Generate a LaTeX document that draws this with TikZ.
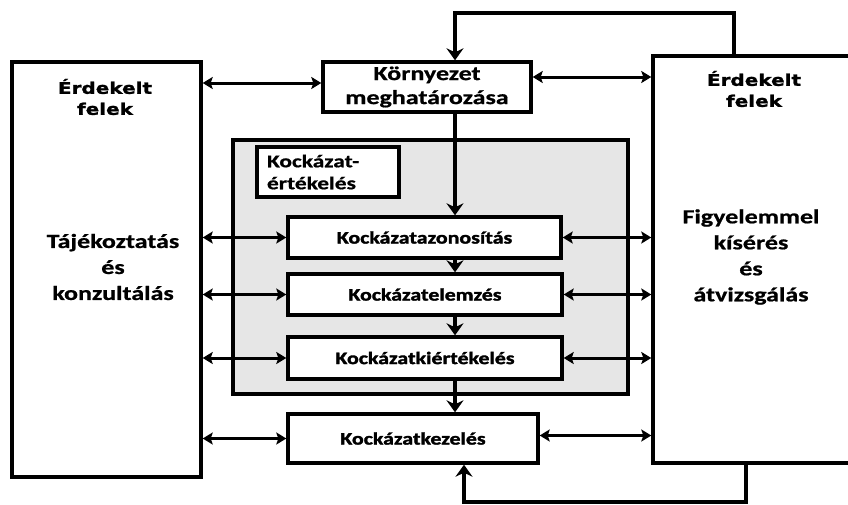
\documentclass[tikz,border=0pt]{standalone}
\usepackage{fontspec}
\usetikzlibrary{arrows.meta,calc}
\setmainfont{Carlito}
\newfontfamily\lblfont{Carlito}[FakeStretch=1.3,BoldFeatures={FakeBold=0.8}]
\newfontfamily\stepfont{Carlito}[FakeStretch=1.25,BoldFeatures={FakeBold=1.8}]
\newfontfamily\partyfont{DejaVu Sans}[FakeStretch=1.25,BoldFeatures={FakeBold=1.5}]
\definecolor{panelgray}{HTML}{E6E6E6}
\tikzset{
  box/.style={draw=black, line width=3.4pt, fill=white, inner sep=0pt},
  stepbox/.style={box, minimum height=41pt, font=\stepfont\bfseries\fontsize{17.5}{20}\selectfont},
  bigtext/.style={align=center, font=\lblfont\bfseries\fontsize{20}{26}\selectfont},
  partytext/.style={align=center, font=\partyfont\bfseries\fontsize{16}{21}\selectfont},
  flow/.style={line width=3.2pt, -{Stealth[length=12pt,width=17pt,inset=4pt]}},
  talk/.style={line width=3pt, {Stealth[length=10pt,width=12pt,inset=2pt]}-{Stealth[length=10pt,width=12pt,inset=2pt]}},
}
\begin{document}
\begin{tikzpicture}[x=1pt, y=-1pt]
  \useasboundingbox (0,0) rectangle (848,504);
  \fill[white] (0,0) rectangle (848,504);
  \clip (0,0) rectangle (848,504);

  % stakeholder columns
  \node[box, minimum width=189pt, minimum height=415pt] (left) at (106.5,269.5) {};
  \node[box, minimum width=217pt, minimum height=407pt] (right) at (761.5,259.5) {};

  \node[partytext] (lparty) at (105,97) {Érdekelt\\felek};
  \node[bigtext] (ltext) at (113,267) {Tájékoztatás\\és\\konzultálás};
  \node[partytext] (rparty) at (754,89) {Érdekelt\\felek};
  \node[bigtext] (rtext) at (751,257) {Figyelemmel\\kísérés\\és\\átvizsgálás};

  % context
  \node[box, minimum width=208pt, minimum height=50pt, align=center,
        font=\lblfont\bfseries\fontsize{20}{24}\selectfont] (env) at (427,87)
        {Környezet\\meghatározása};

  % risk assessment panel
  \node[box, fill=panelgray, minimum width=395pt, minimum height=254pt] (panel) at (430.5,267) {};
  \node[box, minimum width=142pt, minimum height=50pt, align=left, text width=122pt,
        font=\lblfont\bfseries\fontsize{18}{22}\selectfont] (evallabel) at (328,172)
        {Kockázat-\\értékelés};

  \node[stepbox, minimum width=273pt] (ident) at (424.5,237.5) {Kockázatazonosítás};
  \node[stepbox, minimum width=274pt] (anal) at (425,294.5) {Kockázatelemzés};
  \node[stepbox, minimum width=274pt, minimum height=42pt] (evalu) at (425,358) {Kockázatkiértékelés};
  \node[stepbox, minimum width=250pt, minimum height=49pt] (treat) at (413,438.5) {Kockázatkezelés};

  % guide coordinates for the vertical flow
  \coordinate (vx) at (455,0);
  \coordinate (vx2) at (464,0);
  \coordinate (topr) at (734,13);
  \coordinate (botr) at (746,502);

  % main flow
  \draw[flow] (env.south -| vx) -- (ident.north -| vx);
  \draw[flow] (ident.south -| vx) -- (anal.north -| vx);
  \draw[flow] (anal.south -| vx) -- (evalu.north -| vx);
  \draw[flow] (evalu.south -| vx) -- (treat.north -| vx);

  % feedback loops from monitoring
  \draw[flow] (right.north -| topr) -- (topr) -| (env.north -| vx);
  \draw[flow] (right.south -| botr) -- (botr) -| (treat.south -| vx2);

  % communication with stakeholders
  \draw[talk] (left.east |- env.west) ++(0,-4) coordinate (l0) -- (env.west |- l0);
  \draw[talk] (left.east |- ident.west) -- (ident.west);
  \draw[talk] (left.east |- anal.west) -- (anal.west);
  \draw[talk] (left.east |- evalu.west) -- (evalu.west);
  \draw[talk] (left.east |- treat.west) -- (treat.west);

  \draw[talk] (env.east) ++(0,-10) coordinate (r0) -- (right.west |- r0);
  \draw[talk] (ident.east) -- (right.west |- ident.east);
  \draw[talk] (anal.east) -- (right.west |- anal.east);
  \draw[talk] (evalu.east) -- (right.west |- evalu.east);
  \draw[talk] (treat.east) ++(0,-3) coordinate (r4) -- (right.west |- r4);
\end{tikzpicture}
\end{document}
